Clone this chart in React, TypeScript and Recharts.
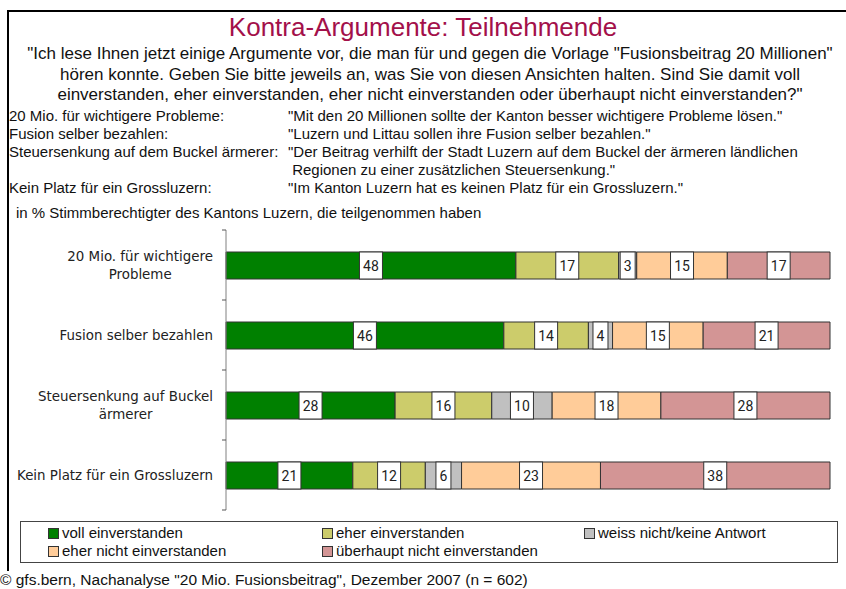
import { Bar, BarChart, LabelList, Legend, XAxis, YAxis } from 'recharts';

const categories = [
  '20 Mio. für wichtigere Probleme',
  'Fusion selber bezahlen',
  'Steuersenkung auf Buckel ärmerer',
  'Kein Platz für ein Grossluzern',
];
const categoryLines = [
  ['20 Mio. für wichtigere', 'Probleme'],
  ['Fusion selber bezahlen'],
  ['Steuersenkung auf Buckel', 'ärmerer'],
  ['Kein Platz für ein Grossluzern'],
];
const voll = [48, 46, 28, 21];
const eher = [17, 14, 16, 12];
const weissNicht = [3, 4, 10, 6];
const eherNicht = [15, 15, 18, 23];
const ueberhauptNicht = [17, 21, 28, 38];

const seriesKeys = ['voll', 'eher', 'weissNicht', 'eherNicht', 'ueberhauptNicht'];
const seriesNames = [
  'voll einverstanden',
  'eher einverstanden',
  'weiss nicht/keine Antwort',
  'eher nicht einverstanden',
  'überhaupt nicht einverstanden',
];
const seriesColors = ['#008000', '#CCCC6B', '#C0C0C0', '#FFCC99', '#D39595'];

const title = 'Kontra-Argumente: Teilnehmende';
const questionLines = [
  '"Ich lese Ihnen jetzt einige Argumente vor, die man für und gegen die Vorlage "Fusionsbeitrag 20 Millionen"',
  'hören konnte. Geben Sie bitte jeweils an, was Sie von diesen Ansichten halten. Sind Sie damit voll',
  'einverstanden, eher einverstanden, eher nicht einverstanden oder überhaupt nicht einverstanden?"',
];
const argumentRows = [
  ['20 Mio. für wichtigere Probleme:', '"Mit den 20 Millionen sollte der Kanton besser wichtigere Probleme lösen."'],
  ['Fusion selber bezahlen:', '"Luzern und Littau sollen ihre Fusion selber bezahlen."'],
  ['Steuersenkung auf dem Buckel ärmerer:', '"Der Beitrag verhilft der Stadt Luzern auf dem Buckel der ärmeren ländlichen'],
  ['', ' Regionen zu einer zusätzlichen Steuersenkung."'],
  ['Kein Platz für ein Grossluzern:', '"Im Kanton Luzern hat es keinen Platz für ein Grossluzern."'],
];
const subtitle = 'in % Stimmberechtigter des Kantons Luzern, die teilgenommen haben';
const source = '© gfs.bern, Nachanalyse "20 Mio. Fusionsbeitrag", Dezember 2007 (n = 602)';

const data = categories.map((name, i) => ({
  name,
  voll: voll[i],
  eher: eher[i],
  weissNicht: weissNicht[i],
  eherNicht: eherNicht[i],
  ueberhauptNicht: ueberhauptNicht[i],
}));

const NARROW = "'Liberation Sans Narrow', 'Arial Narrow', 'Liberation Sans', sans-serif";
const AXIS_FONT = "'DejaVu Sans', Verdana, sans-serif";
const AXIS_FONT_SIZE = 13.4;

const W = 846;
const H = 589;
const PLOT_LEFT = 226;
const PLOT_TOP = 230;
const PLOT_BOTTOM = 510;
const LEGEND_H = 42;
const BAND = (PLOT_BOTTOM - PLOT_TOP) / categories.length;

let measureCtx: CanvasRenderingContext2D | null = null;
function textWidth(s: string) {
  if (!measureCtx) measureCtx = document.createElement('canvas').getContext('2d');
  if (!measureCtx) return s.length * 7;
  measureCtx.font = `${AXIS_FONT_SIZE}px ${AXIS_FONT}`;
  return measureCtx.measureText(s).width;
}

function CategoryTick(props: any) {
  const { y, payload } = props;
  const idx = categories.indexOf(payload.value);
  const lines = categoryLines[idx] || [payload.value];
  const blockW = Math.max(...lines.map(textWidth));
  const cx = PLOT_LEFT - 13 - blockW / 2;
  const lh = 18;
  const y0 = y - ((lines.length - 1) * lh) / 2;
  return (
    <g>
      <line x1={PLOT_LEFT - 4} x2={PLOT_LEFT} y1={y - BAND / 2} y2={y - BAND / 2} stroke="#555" />
      {idx === categories.length - 1 && (
        <line x1={PLOT_LEFT - 4} x2={PLOT_LEFT} y1={y + BAND / 2} y2={y + BAND / 2} stroke="#555" />
      )}
      {lines.map((l, i) => (
        <text
          key={i}
          x={cx}
          y={y0 + i * lh}
          dy="0.35em"
          textAnchor="middle"
          fontFamily={AXIS_FONT}
          fontSize={AXIS_FONT_SIZE}
          fill="#222"
        >
          {l}
        </text>
      ))}
    </g>
  );
}

function ValueBox(props: any) {
  const { x, y, width, height, value } = props;
  const w = String(value).length * 8 + 7;
  const cx = x + width / 2;
  return (
    <g>
      <rect x={cx - w / 2} y={y} width={w} height={height} fill="#fff" stroke="#333" />
      <text
        x={cx}
        y={y + height / 2}
        dy="0.36em"
        textAnchor="middle"
        fontFamily="Roboto, Arial, sans-serif"
        fontSize={14}
        fill="#222"
      >
        {value}
      </text>
    </g>
  );
}

const legendCols = [48, 322, 584];

function LegendBox() {
  return (
    <div
      style={{
        position: 'relative',
        width: 818,
        height: LEGEND_H,
        boxSizing: 'border-box',
        border: '1px solid #444',
        background: '#fff',
        fontFamily: NARROW,
        fontSize: 15,
        color: '#111',
      }}
    >
      {seriesNames.map((n, i) => (
        <div
          key={n}
          style={{
            position: 'absolute',
            left: legendCols[i % 3] - 20 - 1,
            top: (i < 3 ? 3 : 21) - 1,
            height: 18,
            lineHeight: '18px',
            whiteSpace: 'nowrap',
            display: 'flex',
            alignItems: 'center',
          }}
        >
          <span
            style={{
              display: 'inline-block',
              width: 9,
              height: 9,
              border: '1px solid #333',
              background: seriesColors[i],
              marginRight: 3,
            }}
          />
          {n}
        </div>
      ))}
    </div>
  );
}

export default function App() {
  return (
    <div style={{ position: 'absolute', left: 0, top: 0, width: W, height: H, background: '#fff', overflow: 'hidden' }}>
      <div
        style={{
          position: 'absolute',
          left: 7,
          top: 10,
          width: W,
          height: 565,
          borderLeft: '2px solid #000',
          borderTop: '2px solid #000',
        }}
      />
      <div
        style={{
          position: 'absolute',
          left: 0,
          top: 12,
          width: W,
          textAlign: 'center',
          fontFamily: NARROW,
          fontSize: 26,
          lineHeight: '30px',
          color: '#A3104A',
        }}
      >
        {title}
      </div>
      <div
        style={{
          position: 'absolute',
          left: 14,
          top: 44,
          width: 832,
          textAlign: 'center',
          fontFamily: NARROW,
          fontSize: 17,
          lineHeight: '20.5px',
          color: '#111',
          whiteSpace: 'nowrap',
        }}
      >
        {questionLines.map((l) => (
          <div key={l}>{l}</div>
        ))}
      </div>
      <div
        style={{
          position: 'absolute',
          left: 9,
          top: 107,
          fontFamily: NARROW,
          fontSize: 15,
          lineHeight: '18px',
          color: '#111',
          whiteSpace: 'pre',
        }}
      >
        {argumentRows.map((r, i) => (
          <div key={i} style={{ position: 'relative', height: 18 }}>
            <span style={{ position: 'absolute', left: 0 }}>{r[0]}</span>
            <span style={{ position: 'absolute', left: 279 }}>{r[1]}</span>
          </div>
        ))}
      </div>
      <div
        style={{
          position: 'absolute',
          left: 16,
          top: 204,
          fontFamily: NARROW,
          fontSize: 15,
          lineHeight: '18px',
          color: '#111',
          whiteSpace: 'nowrap',
        }}
      >
        {subtitle}
      </div>
      <div style={{ position: 'absolute', left: 0, top: 0 }}>
        <BarChart
          width={W}
          height={H}
          data={data}
          layout="vertical"
          margin={{ top: PLOT_TOP, right: W - 830, bottom: H - PLOT_BOTTOM - LEGEND_H, left: 0 }}
          barSize={27}
        >
          <XAxis type="number" domain={[0, 100]} hide />
          <YAxis
            type="category"
            dataKey="name"
            width={PLOT_LEFT}
            axisLine={{ stroke: '#808080' }}
            tickLine={false}
            tick={<CategoryTick />}
            interval={0}
          />
          <Legend
            content={() => <LegendBox />}
            wrapperStyle={{ position: 'absolute', left: 20, top: 521, width: 818, height: LEGEND_H }}
          />
          {seriesKeys.map((k, i) => (
            <Bar
              key={k}
              dataKey={k}
              name={seriesNames[i]}
              stackId="a"
              fill={seriesColors[i]}
              stroke="#333"
              strokeWidth={1}
              isAnimationActive={false}
            >
              <LabelList dataKey={k} content={<ValueBox />} />
            </Bar>
          ))}
        </BarChart>
      </div>
      <div
        style={{
          position: 'absolute',
          left: 0,
          top: 571,
          fontFamily: NARROW,
          fontSize: 15.5,
          lineHeight: '18px',
          color: '#111',
          whiteSpace: 'nowrap',
          background: '#fff',
        }}
      >
        {source}
      </div>
    </div>
  );
}
